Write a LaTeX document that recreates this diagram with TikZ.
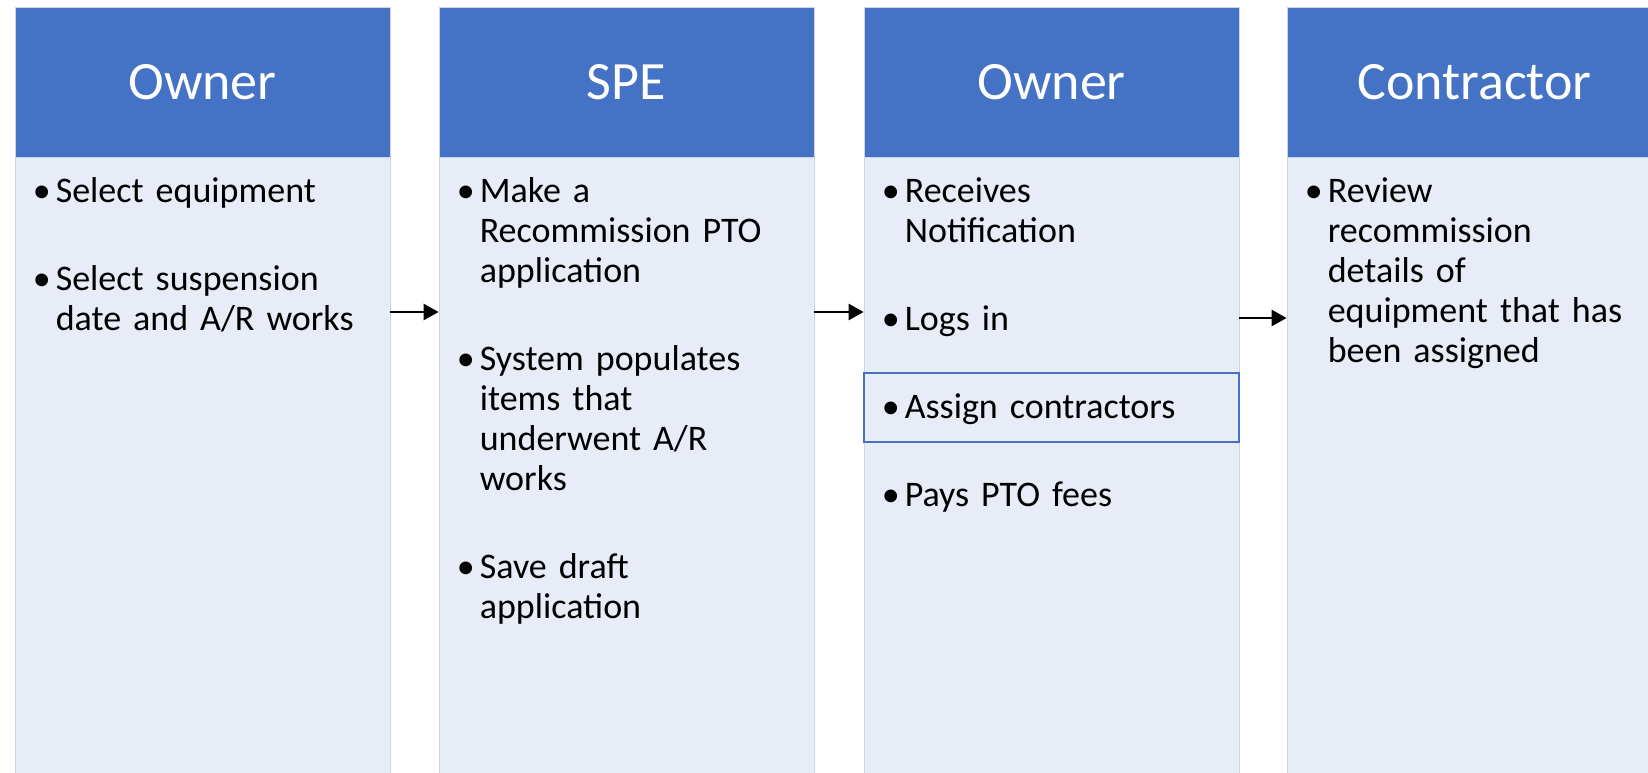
\documentclass[tikz,border=0pt]{standalone}
\usepackage{fontspec}
\setmainfont{Carlito}
\usetikzlibrary{arrows.meta, positioning}

\definecolor{headblue}{HTML}{4472C4}
\definecolor{bodyblue}{HTML}{E7ECF6}
\definecolor{edgeblue}{HTML}{CAD4EA}

\tikzstyle{header} = [rectangle, minimum width=375pt, minimum height=150pt, inner sep=0pt, fill=headblue, draw=edgeblue, line width=0.6pt, text=white, font=\fontsize{54}{60}\selectfont]
\tikzstyle{body} = [rectangle, minimum width=375pt, minimum height=640pt, fill=bodyblue, draw=edgeblue, line width=0.8pt]
\tikzstyle{items} = [text width=345pt, align=left, inner sep=0pt, text=black, font=\fontsize{36}{40}\selectfont, execute at begin node={\setlength{\parindent}{0pt}\setlength{\parskip}{48pt}}]
\tikzstyle{selected} = [rectangle, minimum width=375pt, minimum height=69pt, draw=headblue, line width=2pt]
\tikzstyle{arrow} = [line width=2.5pt, -{Triangle[length=15pt, width=16pt]}]

% one bullet point, hanging indent
\newcommand{\itm}[1]{\noindent\hangindent=23pt\hangafter=1\makebox[23pt][l]{\rule{0pt}{28pt}•}#1\par}

\begin{document}
\begin{tikzpicture}[x=1pt, y=1pt]
    \useasboundingbox (0,0) rectangle (1648,772);
    \clip (0,0) rectangle (1648,772);
    \fill[white] (0,0) rectangle (1648,772);

    \node (h1) [header] at (202.5,690) {Owner};
    \node (h2) [header] at (626.5,690) {SPE};
    \node (h3) [header] at (1051.5,690) {Owner};
    \node (h4) [header] at (1474.5,690) {Contractor};

    \node (b1) [body, below=0pt of h1] {};
    \node (b2) [body, below=0pt of h2] {};
    \node (b3) [body, below=0pt of h3] {};
    \node (b4) [body, below=0pt of h4] {};

    \node (sel) [selected, below=215pt of b3.north] {};

    \node (t1) [items, below right=17pt and 18pt of b1.north west] {%
        \itm{Select equipment}
        \itm{Select suspension\newline date and A/R works}};
    \node (t2) [items, below right=17pt and 18pt of b2.north west] {%
        \itm{Make a\newline Recommission PTO\newline application}
        \itm{System populates\newline items that\newline underwent A/R\newline works}
        \itm{Save draft\newline application}};
    \node (t3) [items, below right=17pt and 18pt of b3.north west] {%
        \itm{Receives\newline Notification}
        \itm{Logs in}
        \itm{Assign contractors}
        \itm{Pays PTO fees}};
    \node (t4) [items, below right=17pt and 18pt of b4.north west] {%
        \itm{Review\newline recommission\newline details of\newline equipment that has\newline been assigned}};

    \draw [arrow] (b1.east |- 0,460) -- (b2.west |- 0,460);
    \draw [arrow] (b2.east |- 0,460) -- (b3.west |- 0,460);
    \draw [arrow] (b3.east |- 0,454) -- (b4.west |- 0,454);
\end{tikzpicture}
\end{document}
